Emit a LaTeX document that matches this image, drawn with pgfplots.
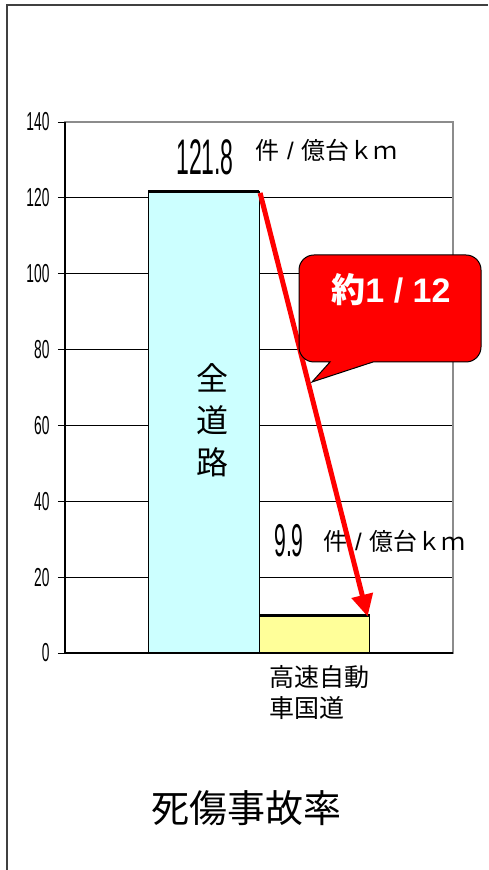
\documentclass[border=0pt]{standalone}
\usepackage{fontspec}
\usepackage{pgfplots}
\pgfplotsset{compat=1.18}
\usetikzlibrary{arrows.meta}
\setmainfont{Noto Sans CJK JP}
\newfontfamily\tickfont[FakeStretch=0.53]{Liberation Sans}
\newfontfamily\valfont[FakeStretch=0.46]{Liberation Sans}
\newfontfamily\latin{Liberation Sans}
\definecolor{barcyan}{HTML}{CCFFFF}
\definecolor{baryellow}{HTML}{FFFF99}
\definecolor{frame}{HTML}{404040}
\newcommand\unit{件{\latin\,\,/\,\,}億台ｋｍ}
\begin{document}
\begin{tikzpicture}[x=1pt,y=1pt]
\useasboundingbox (0,0) rectangle (488,870);
\fill[white] (0,0) rectangle (488,870);
\draw[line width=2pt, draw=frame] (7,0) -- (7,865) -- (488,865);
\begin{axis}[
  at={(65pt,217pt)}, anchor=south west,
  scale only axis, width=388pt, height=531pt,
  xmin=-1.25, xmax=2.25, ymin=0, ymax=140,
  ytick={0,20,...,140}, xtick=\empty, ytick pos=left,
  ymajorgrids, major grid style={black, line width=0.7pt},
  axis line style={draw=black!45, line width=1.5pt},
  tick align=outside, major tick length=7pt,
  ytick style={black, line width=0.8pt},
  yticklabel style={font=\tickfont\fontsize{26}{26}\selectfont, xshift=-5pt},
  /pgf/number format/assume math mode=true,
  clip=false]
% rates of fatal/injury accidents (per 100 million vehicle-km)
\addplot[ybar, bar width=1, bar shift=0pt, fill=barcyan, draw=black, line width=1pt]
  coordinates {(0,121.8)};
\addplot[ybar, bar width=1, bar shift=0pt, fill=baryellow, draw=black, line width=1pt]
  coordinates {(1,9.9)};
% heavy top edges of the bars
\draw[line width=3pt] (axis cs:-0.5,121.8) -- (axis cs:0.5,121.8);
\draw[line width=3pt] (axis cs:0.5,9.9) -- (axis cs:1.5,9.9);
% left and bottom axis lines in black
\draw[black, line width=1.5pt] (rel axis cs:0,1) -- (rel axis cs:0,0) -- (rel axis cs:1,0);
% reduction arrow
\draw[red, line width=5pt, -{Triangle[length=22pt,width=21pt]}]
  (axis cs:0.51,121.3) -- (axis cs:1.48,9.6);
\end{axis}
% value labels
\node[anchor=base, inner sep=0, font=\valfont\fontsize{50}{50}\selectfont] at (205,695) {121.8};
\node[anchor=base west, inner sep=0, font=\fontsize{24}{24}\selectfont] at (255,710) {\unit};
\node[anchor=base, inner sep=0, font=\valfont\fontsize{46}{46}\selectfont] at (289,313) {9.9};
\node[anchor=base west, inner sep=0, font=\fontsize{24}{24}\selectfont] at (323,319) {\unit};
% category labels
\node[align=center, font=\fontsize{32}{42}\selectfont] at (212,450) {全\\道\\路};
\node[anchor=north west, align=left, inner sep=0, font=\fontsize{25}{31}\selectfont] at (269,205) {高速自動\\車国道};
% title
\node[font=\fontsize{38}{38}\selectfont] at (246,62) {死傷事故率};
% callout
\draw[fill=red, draw=black, line width=1pt]
  (330,508) -- (312,488) -- (373,508) [rounded corners=15pt] -- (481,508) -- (481,615)
  -- (299,615) -- (299,508) [sharp corners] -- cycle;
\node[text=white, font=\bfseries\fontsize{34}{34}\selectfont] at (391,580) {約{\latin\bfseries 1 / 12}};
\end{tikzpicture}
\end{document}
